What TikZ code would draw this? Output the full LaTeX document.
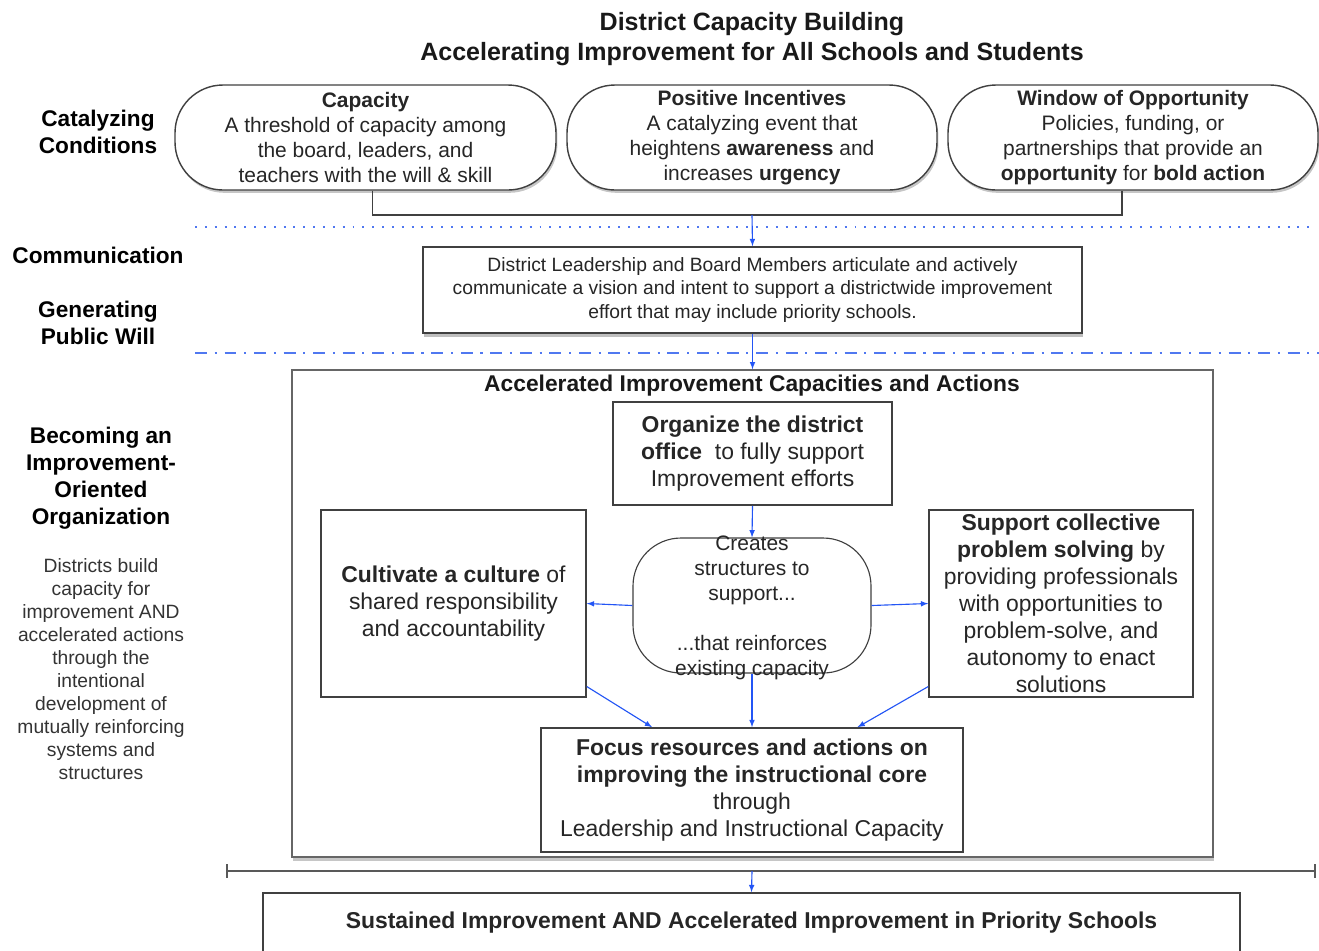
\documentclass[tikz,border=0pt]{standalone}
\usepackage{fontspec}
\setmainfont{Liberation Sans}
\usepackage{xcolor}
\usepackage{tikz}
\usetikzlibrary{shapes,arrows,positioning,shadows}
\definecolor{linkblue}{RGB}{35,85,245}
\definecolor{rowblue}{RGB}{80,120,240}
\newcommand{\headfont}{\fontsize{17.8}{21.3}\selectfont\bfseries}
\newcommand{\sidefont}{\fontsize{16.1}{19.1}\selectfont\bfseries}
\newcommand{\notefont}{\fontsize{13.7}{16.4}\selectfont}
\newcommand{\capsulefont}{\fontsize{14.9}{17.8}\selectfont}
\newcommand{\boxfont}{\fontsize{16.3}{19.2}\selectfont}

\begin{document}
\begin{tikzpicture}[x=0.025cm, y=-0.025cm,
    dims/.style 2 args={minimum width=#1*0.025cm, minimum height=#2*0.025cm},
    capsule/.style={draw=black!75, line width=1pt, rounded corners=1.2cm, fill=white,
        inner sep=0pt, align=center, text=black!85, font=\capsulefont,
        drop shadow={shadow xshift=1pt, shadow yshift=-2pt, opacity=0.45}},
    hub/.style={draw=black!75, line width=0.8pt, rounded corners=1.2cm, fill=white, inner sep=0pt},
    box/.style={draw=black!75, line width=1.1pt, fill=white, inner sep=0pt,
        align=center, text=black!85, font=\boxfont},
    panel/.style={draw=black!60, line width=0.9pt, fill=white, inner sep=0pt,
        drop shadow={shadow xshift=1pt, shadow yshift=-2.5pt, opacity=0.45}},
    side/.style={align=center, font=\sidefont},
    link/.style={draw=linkblue, line width=0.8pt, -latex}]
\useasboundingbox (0,0) rectangle (1319,950);
\clip (0,0) rectangle (1319,950);

% Title
\node[align=center, font=\headfont, text=black!90] (title) at (752,39)
    {District Capacity Building\\Accelerating Improvement for All Schools and Students};

% Row labels
\node[side] (catalyze) at (98,132) {Catalyzing\\Conditions};
\node[side] (communic) at (98,255) {Communication};
\node[side] (publicwill) at (98,323) {Generating\\Public Will};
\node[side] (becoming) at (101,478) {Becoming an\\Improvement-\\Oriented\\Organization};
\node[align=center, font=\notefont, text=black!80] (districts) at (101,669)
    {Districts build\\capacity for\\improvement AND\\accelerated actions\\through the\\intentional\\development of\\mutually reinforcing\\systems and\\structures};

% Separators
\draw[rowblue, line width=1.3pt, dash pattern=on 1.4pt off 5.6pt] (195,227) -- (1316,227);
\draw[rowblue, line width=1.3pt, dash pattern=on 8.5pt off 5.5pt on 1.5pt off 5.5pt] (195,353) -- (1319,353);

% Catalyzing conditions
\node[capsule, dims={381}{105}] (cap) at (365.5,137.5)
    {\textbf{Capacity}\\A threshold of capacity among\\the board, leaders, and\\teachers with the will \& skill};
\node[capsule, dims={370}{105}] (pos) at (752,137.5)
    {\textbf{Positive Incentives}\\A catalyzing event that\\heightens \textbf{awareness} and\\increases \textbf{urgency}};
\node[capsule, dims={370}{105}] (win) at (1133,137.5)
    {\textbf{Window of Opportunity}\\Policies, funding, or\\partnerships that provide an\\\textbf{opportunity} for \textbf{bold action}};
\coordinate (join) at (752,215);
\draw[black!75, line width=1.2pt] ([xshift=5pt]cap.south) |- (join) -| ([xshift=-8pt]win.south);

% Communication
\node[box, font=\notefont, dims={659}{86},
    drop shadow={shadow xshift=1pt, shadow yshift=-2.5pt, opacity=0.5}] (comm) at (752.5,290)
    {District Leadership and Board Members articulate and actively\\communicate a vision and intent to support a districtwide improvement\\effort that may include priority schools.};

% Capacities and actions
\node[panel, dims={921}{487}] (main) at (752.5,613.5) {};
\node[font=\fontsize{16.2}{19}\selectfont\bfseries, text=black!90] (mainhead) at (752,386)
    {Accelerated Improvement Capacities and Actions};
\node[box, dims={279}{103}] (org) at (752.5,453.5)
    {\textbf{Organize the district}\\\textbf{office}~ to fully support\\Improvement efforts};
\node[box, dims={265}{187}] (cult) at (453.5,603.5)
    {\textbf{Cultivate a culture} of\\shared responsibility\\and accountability};
\node[box, dims={264}{187}] (supp) at (1061,603.5)
    {\textbf{Support collective}\\\textbf{problem solving} by\\providing professionals\\with opportunities to\\problem-solve, and\\autonomy to enact\\solutions};
\node[hub, dims={238}{135},
    label={[font=\capsulefont, align=center, text=black!85, yshift=-1.5pt]center:{Creates\\structures to\\support...\\[17.8pt]...that reinforces\\existing capacity}}] (mid) at (752,605.5) {};
\node[box, dims={422}{124}] (focus) at (752,790)
    {\textbf{Focus resources and actions on}\\\textbf{improving the instructional core}\\through\\Leadership and Instructional Capacity};

% Outcome
\coordinate (split) at (752,871);
\draw[black!65, line width=1.5pt, |-|] (226,871) -- (1316,871);
\node[box, font=\fontsize{16.3}{19}\selectfont\bfseries, dims={977}{60}] (goal) at (751.5,923)
    {Sustained Improvement AND Accelerated Improvement in Priority Schools};

% Arrows
\draw[link] (join) -- (comm.north);
\draw[link] (comm.south) -- (main.north);
\draw[link] (org.south) -- (mid.north);
\draw[link] (mid.west) -- (cult.east);
\draw[link] (mid.east) -- (supp.west);
\draw[link] (mid.south) -- (focus.north);
\draw[link] ([yshift=8pt]cult.south east) -- ([xshift=-71pt]focus.north);
\draw[link] ([yshift=8pt]supp.south west) -- ([xshift=75pt]focus.north);
\draw[link] (split) -- (goal.north);
\end{tikzpicture}
\end{document}
